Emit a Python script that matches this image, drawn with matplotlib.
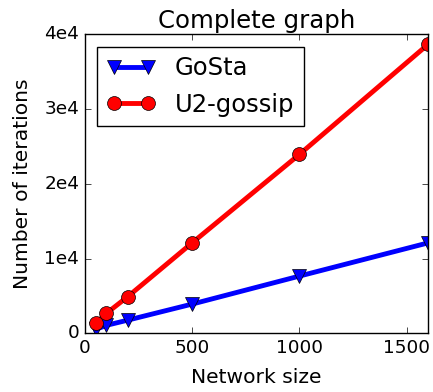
import matplotlib
matplotlib.use("Agg")
import matplotlib.pyplot as plt

plt.style.use('classic')

sizes = [50, 100, 200, 500, 1000, 1600]
gosta = [500, 1050, 1750, 3900, 7650, 12100]
u2gossip = [1300, 2650, 4900, 12100, 23950, 38700]

yticks = [0, 10000, 20000, 30000, 40000]
ylabels = ["0", "1e4", "2e4", "3e4", "4e4"]

fig = plt.figure(figsize=(4.33, 3.92), dpi=100)
fig.patch.set_facecolor('white')
ax = fig.add_axes([0.196, 0.150, 0.793, 0.762])

ax.plot(sizes, gosta, color='blue', marker='v', markersize=10, linewidth=3.5, label="GoSta")
ax.plot(sizes, u2gossip, color='red', marker='o', markersize=10, linewidth=3.5, label="U2-gossip")

ax.set_xlim(0, 1600)
ax.set_ylim(0, 40000)
ax.set_xticks([0, 500, 1000, 1500])
ax.set_yticks(yticks)
ax.set_yticklabels(ylabels)
ax.tick_params(labelsize=13.3)

ax.set_xlabel("Network size", fontsize=14.6, labelpad=8)
ax.set_ylabel("Number of iterations", fontsize=14.6, labelpad=9)
ax.set_title("Complete graph", fontsize=17.6)
ax.legend(loc='upper left', fontsize=17.5, numpoints=2)

fig.savefig("out.png", dpi=100, facecolor='white')
